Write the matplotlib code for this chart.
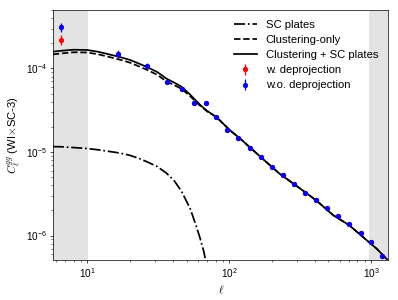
import numpy as np
import matplotlib
matplotlib.use("Agg")
import matplotlib.pyplot as plt

plt.rcParams["font.family"] = ["Liberation Sans", "DejaVu Sans"]
plt.rcParams["mathtext.fontset"] = "cm"
plt.rcParams["font.size"] = 13
plt.rcParams["xtick.labelsize"] = 11.5
plt.rcParams["ytick.labelsize"] = 11.5

# Pontos medidos (multipolos e espectro C_ell^gg)
ell_dados = [6.5, 16.5, 26.5, 36.5, 46.5, 56.5, 68, 81, 97, 116, 139, 166, 199,
             238, 286, 341, 408, 490, 585, 700, 841, 1000, 1196]
cl_sem_deproj = [3.10e-4, 1.48e-4, 1.066e-4, 6.86e-5, 5.65e-5, 3.87e-5, 3.81e-5,
                 2.63e-5, 1.81e-5, 1.46e-5, 1.11e-5, 8.67e-6, 6.64e-6, 5.24e-6,
                 4.11e-6, 3.24e-6, 2.65e-6, 2.12e-6, 1.70e-6, 1.36e-6, 1.06e-6,
                 8.37e-7, 5.75e-7]
err_sem_deproj = [3.5e-5, 1.3e-5, 7.5e-6, 4.0e-6, 3.0e-6, 2.0e-6, 1.8e-6, 1.1e-6,
                  7.0e-7, 5.0e-7, 3.5e-7, 2.6e-7, 1.9e-7, 1.4e-7, 1.1e-7, 8.0e-8,
                  6.5e-8, 5.0e-8, 4.0e-8, 3.2e-8, 2.6e-8, 2.1e-8, 1.7e-8]
cl_com_deproj = [2.18e-4, 1.49e-4, 1.068e-4, 6.88e-5, 5.65e-5, 3.87e-5, 3.81e-5,
                 2.63e-5, 1.81e-5, 1.46e-5, 1.11e-5, 8.67e-6, 6.64e-6, 5.24e-6,
                 4.11e-6, 3.24e-6, 2.65e-6, 2.12e-6, 1.70e-6, 1.36e-6, 1.06e-6,
                 8.37e-7, 5.75e-7]
err_com_deproj = [3.0e-5, 1.6e-5, 8.0e-6, 4.5e-6, 3.2e-6, 2.2e-6, 2.0e-6, 1.2e-6,
                  7.5e-7, 5.5e-7, 3.8e-7, 2.8e-7, 2.0e-7, 1.5e-7, 1.2e-7, 9.0e-8,
                  7.0e-8, 5.5e-8, 4.2e-8, 3.4e-8, 2.8e-8, 2.2e-8, 1.8e-8]

# Modelos
ell_modelo = [5.7, 6.5, 8, 10, 12, 14, 17, 20, 23, 26, 31, 36, 41, 46, 53, 58,
              62, 66, 70, 81, 101, 119, 164, 226, 316, 408, 541, 700, 930,
              1100, 1320]
cl_clustering = [1.47e-4, 1.51e-4, 1.56e-4, 1.55e-4, 1.47e-4, 1.38e-4, 1.27e-4,
                 1.17e-4, 1.06e-4, 9.7e-5, 8.4e-5, 7.0e-5, 6.3e-5, 5.7e-5,
                 4.65e-5, 4.0e-5, 3.6e-5, 3.3e-5, 3.05e-5, 2.62e-5, 1.82e-5,
                 1.45e-5, 8.9e-6, 5.5e-6, 3.65e-6, 2.65e-6, 1.75e-6, 1.33e-6,
                 8.8e-7, 6.9e-7, 5.0e-7]
cl_sc_plates = [1.16e-5, 1.155e-5, 1.13e-5, 1.10e-5, 1.06e-5, 1.02e-5, 9.7e-6,
                9.1e-6, 8.4e-6, 7.7e-6, 6.7e-6, 5.6e-6, 4.5e-6, 3.4e-6, 2.1e-6,
                1.35e-6, 9.5e-7, 6.5e-7, 4.0e-7, 5.0e-8, 1e-10, 1e-10, 1e-10,
                1e-10, 1e-10, 1e-10, 1e-10, 1e-10, 1e-10, 1e-10, 1e-10]
cl_total = np.array(cl_clustering) + np.array(cl_sc_plates)

# Regioes excluidas
ell_min_corte = 10
ell_max_corte = 960

fig = plt.figure(figsize=(6.368, 4.8), dpi=62.5)
ax = fig.add_subplot(111)
fig.subplots_adjust(left=0.134, right=0.9756, bottom=0.1333, top=0.9667)

ax.set_xscale("log")
ax.set_yscale("log")
ax.set_xlim(5.75, 1320)
ax.set_ylim(5.1e-7, 5e-4)

ax.axvspan(5.75, ell_min_corte, color="#e3e3e3", zorder=0)
ax.axvspan(ell_max_corte, 1320, color="#e3e3e3", zorder=0)

ax.plot(ell_modelo, cl_sc_plates, "k-.", lw=2, label="SC plates")
ax.plot(ell_modelo, cl_clustering, "k--", lw=2, label="Clustering-only")
ax.plot(ell_modelo, cl_total, "k-", lw=2, label="Clustering + SC plates")

ax.errorbar(ell_dados, cl_com_deproj, yerr=err_com_deproj, fmt="o", color="r",
            ms=5, elinewidth=1.5, label="w. deprojection")
ax.errorbar(ell_dados, cl_sem_deproj, yerr=err_sem_deproj, fmt="o", color="b",
            ms=5, elinewidth=1.5, label="w.o. deprojection")

ax.set_xlabel(r"$\ell$")
ax.set_ylabel(r"$C_\ell^{gg}$ (WI$\times$SC-3)")
ax.legend(loc="upper right", frameon=False, labelspacing=0.45)

plt.savefig("out.png", dpi=62.5)
